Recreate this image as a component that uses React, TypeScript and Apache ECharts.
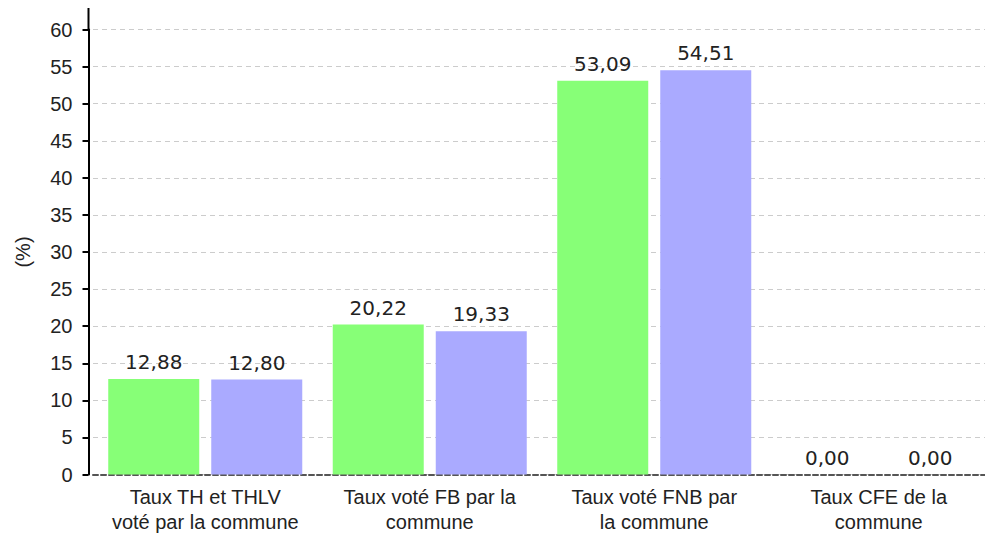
import React, { useEffect, useRef } from "react";
import * as echarts from "echarts";

const categories = [
  "Taux TH et THLV\nvoté par la commune",
  "Taux voté FB par la\ncommune",
  "Taux voté FNB par\nla commune",
  "Taux CFE de la\ncommune",
];
const seriesCommune = [12.88, 20.22, 53.09, 0.0];
const seriesOther = [12.8, 19.33, 54.51, 0.0];
const yTicks = { min: 0, max: 60, interval: 5 };

const fmt = (v: number) => v.toFixed(2).replace(".", ",");

export default function App() {
  const ref = useRef<HTMLDivElement>(null);
  useEffect(() => {
    if (!ref.current) return;
    const chart = echarts.init(ref.current, null, { renderer: "svg" });
    const labelStyle = {
      show: true,
      position: "top" as const,
      distance: 7,
      fontFamily: "DejaVu Sans",
      fontSize: 20,
      color: "#222",
      formatter: (p: any) => fmt(p.value),
    };
    chart.setOption({
      animation: false,
      backgroundColor: "#fff",
      grid: {
        left: 93,
        top: 29.5,
        width: 898,
        bottom: 59.5,
        containLabel: false,
        outerBoundsMode: "none",
      },
      xAxis: {
        type: "category",
        data: categories,
        axisLine: { show: true, lineStyle: { color: "#555", width: 2, type: [5, 3] } },
        axisTick: { show: false },
        axisLabel: {
          margin: 10,
          fontFamily: "Liberation Sans, Arial",
          fontSize: 20,
          lineHeight: 25,
          color: "#222",
          interval: 0,
        },
      },
      yAxis: {
        type: "value",
        min: yTicks.min,
        max: yTicks.max,
        interval: yTicks.interval,
        offset: 4.5,
        name: "(%)",
        nameLocation: "middle",
        nameGap: 56,
        nameRotate: 90,
        nameTextStyle: { fontFamily: "Liberation Sans, Arial", fontSize: 20, color: "#222" },
        axisLine: { show: true, lineStyle: { color: "#000", width: 2 } },
        axisTick: { show: true, length: 6, lineStyle: { color: "#000", width: 2 } },
        axisLabel: { margin: 16, fontFamily: "Liberation Sans, Arial", fontSize: 20, color: "#222" },
        splitLine: { show: true, lineStyle: { color: "#ccc", width: 1, type: [5, 4] } },
      },
      graphic: [
        {
          type: "line",
          shape: { x1: 88.5, y1: 8, x2: 88.5, y2: 30 },
          style: { stroke: "#000", lineWidth: 2 },
          z: 10,
        },
      ],
      series: [
        {
          type: "bar",
          data: seriesCommune,
          barWidth: 91,
          barGap: "13.2%",
          itemStyle: { color: "#87ff77" },
          label: labelStyle,
          z: 1,
        },
        {
          type: "bar",
          data: seriesOther,
          barWidth: 91,
          itemStyle: { color: "#aaaaff" },
          label: labelStyle,
          z: 1,
        },
      ],
    });
    return () => chart.dispose();
  }, []);
  return <div ref={ref} style={{ width: 985, height: 534, position: "absolute", left: 0, top: 0 }} />;
}
